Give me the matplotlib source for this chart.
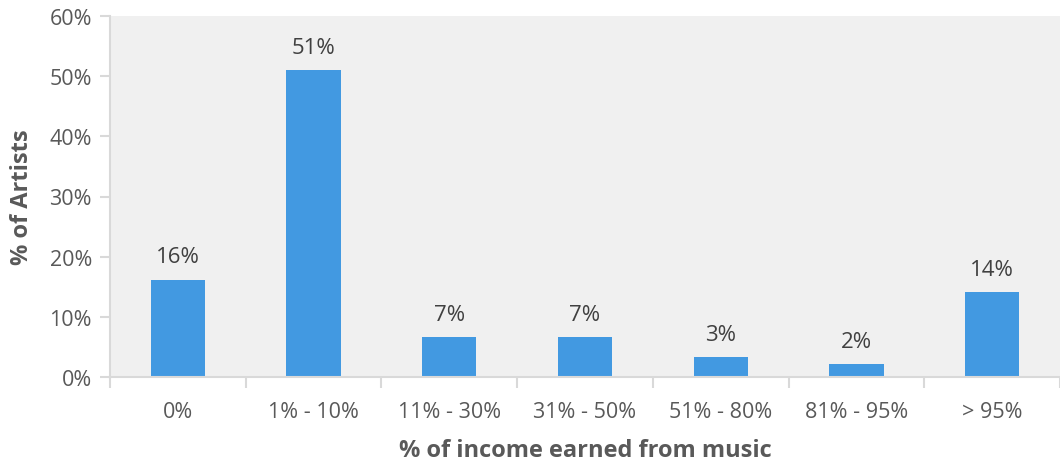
import matplotlib.pyplot as plt

plt.rcParams['font.family'] = ['Open Sans', 'DejaVu Sans']

# share of artists by share of income earned from music
bins = ['0%', '1% - 10%', '11% - 30%', '31% - 50%', '51% - 80%', '81% - 95%', '> 95%']
artists = [16.2, 51.1, 6.6, 6.6, 3.3, 2.2, 14.1]

bar_color = '#4299e1'
grid_color = '#d9d9d9'
text_color = '#595959'

fig = plt.figure(figsize=(10.6, 4.64), dpi=100)
ax = fig.add_axes([110 / 1060, 1 - 378 / 464, 950 / 1060, 361 / 464])
ax.set_facecolor('#f0f0f0')

x = range(len(bins))
ax.bar(x, artists, width=0.4, color=bar_color, zorder=2)
for xi, v in zip(x, artists):
    ax.text(xi, v + 2.0, f'{v:.0f}%', ha='center', va='bottom',
            fontsize=16, color='#404040')

ax.set_xlim(-0.5, len(bins) - 0.5)
ax.set_ylim(0, 60)
ax.set_yticks(range(0, 61, 10))
ax.set_yticklabels([f'{t}%' for t in range(0, 61, 10)])
ax.set_xticks(list(x))
ax.set_xticklabels(bins)
ax.set_xticks([i - 0.5 for i in range(len(bins) + 1)], minor=True)

for side in ['top', 'right']:
    ax.spines[side].set_visible(False)
for side in ['left', 'bottom']:
    ax.spines[side].set_color(grid_color)
    ax.spines[side].set_linewidth(1.5)

ax.tick_params(axis='y', length=7, width=1.5, color=grid_color,
               labelsize=15.5, labelcolor=text_color, pad=6)
ax.tick_params(axis='x', which='major', length=0, labelsize=15.5,
               labelcolor=text_color, pad=17)
ax.tick_params(axis='x', which='minor', length=8, width=1.5, color=grid_color)

ax.set_xlabel('% of income earned from music', fontsize=17, fontweight='bold',
              color=text_color, labelpad=12)
ax.set_ylabel('% of Artists', fontsize=17, fontweight='bold',
              color=text_color, labelpad=11)

fig.savefig('out.png', dpi=100)
